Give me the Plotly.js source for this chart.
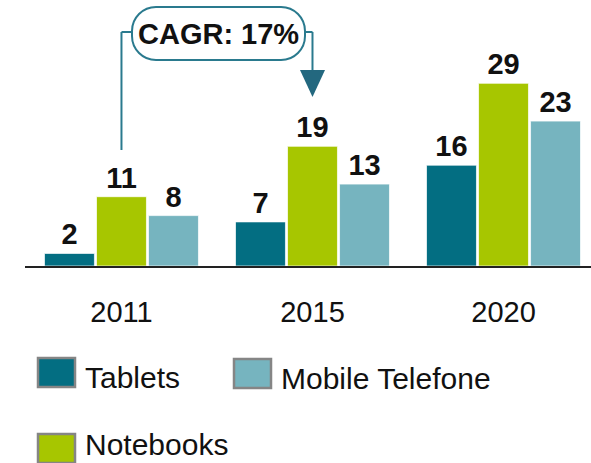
<!DOCTYPE html>
<html>
<head>
<meta charset="utf-8">
<script src="https://cdn.plot.ly/plotly-3.0.1.min.js"></script>
<style>html,body{margin:0;padding:0;background:#fff;}#chart{width:591px;height:463px;}</style>
</head>
<body>
<div id="chart"></div>
<script>
var categories = ['2011', '2015', '2020'];
var seriesNames = ['Tablets', 'Notebooks', 'Mobile Telefone'];
var tablets = [2, 7, 16];
var notebooks = [11, 19, 29];
var mobile = [8, 13, 23];
var cagrLabel = 'CAGR: 17%';
var colors = {Tablets: '#036E82', Notebooks: '#A7C600', 'Mobile Telefone': '#76B4BF'};

var W = 591, H = 463;
var mL = 25, mR = 0, mT = 14, mB = 197;
var pw = W - mL - mR, ph = H - mT - mB;
function px(x) { return (x - mL) / pw; }
function py(y) { return (H - mB - y) / ph; }

var FONT = 'Liberation Sans, Arial, sans-serif';
var valuesBy = {Tablets: tablets, Notebooks: notebooks, 'Mobile Telefone': mobile};

var traces = seriesNames.map(function (n) {
  return {
    type: 'bar', name: n, x: categories, y: valuesBy[n],
    marker: {color: colors[n], line: {color: 'rgba(255,255,255,0.7)', width: 1}},
    text: valuesBy[n].map(String), textposition: 'outside', cliponaxis: false,
    textfont: {family: FONT, size: 29, color: '#111', weight: 'bold'},
    showlegend: false, hoverinfo: 'skip'
  };
});

var shapes = [];
var annotations = [];
var teal = '#2A7A8E';

// CAGR pill box
function pill(x0, y0, x1, y1, r) {
  var k = 0.5523 * r;
  var pts = [
    ['M', x0 + r, y0], ['L', x1 - r, y0],
    ['C', x1 - r + k, y0, x1, y0 + r - k, x1, y0 + r], ['L', x1, y1 - r],
    ['C', x1, y1 - r + k, x1 - r + k, y1, x1 - r, y1], ['L', x0 + r, y1],
    ['C', x0 + r - k, y1, x0, y1 - r + k, x0, y1 - r], ['L', x0, y0 + r],
    ['C', x0, y0 + r - k, x0 + r - k, y0, x0 + r, y0]
  ];
  var s = '';
  pts.forEach(function (p) {
    s += p[0];
    for (var i = 1; i < p.length; i += 2) {
      s += ' ' + px(p[i]).toFixed(5) + ',' + py(p[i + 1]).toFixed(5);
    }
    s += ' ';
  });
  return s + 'Z';
}
shapes.push({type: 'path', xref: 'paper', yref: 'paper', path: pill(132, 7, 305, 60, 24),
  line: {color: teal, width: 2}, fillcolor: 'rgba(0,0,0,0)'});
annotations.push({xref: 'paper', yref: 'paper', x: px(218.5), y: py(34), text: '<b>' + cagrLabel + '</b>',
  showarrow: false, xanchor: 'center', yanchor: 'middle', font: {family: FONT, size: 29, color: '#111'}});

// connector from 2011 group up to box
shapes.push({type: 'line', xref: 'x', yref: 'paper', x0: 0, x1: 0, y0: py(150), y1: py(32), line: {color: teal, width: 2}});
shapes.push({type: 'line', xref: 'paper', yref: 'paper', x0: px(121.5), x1: px(132), y0: py(32), y1: py(32), line: {color: teal, width: 2}});
// connector from box down to 2015 group arrow
shapes.push({type: 'line', xref: 'paper', yref: 'paper', x0: px(305), x1: px(312.5), y0: py(32), y1: py(32), line: {color: teal, width: 2}});
shapes.push({type: 'line', xref: 'x', yref: 'paper', x0: 1, x1: 1, y0: py(32), y1: py(72), line: {color: teal, width: 2}});
shapes.push({type: 'path', xref: 'paper', yref: 'paper',
  path: 'M ' + px(300) + ',' + py(70) + ' L ' + px(325) + ',' + py(70) + ' L ' + px(312.5) + ',' + py(97) + ' Z',
  fillcolor: '#23687F', line: {width: 0}});

// custom legend
var legendItems = [
  {name: 'Tablets', x: 37, y: 357},
  {name: 'Mobile Telefone', x: 233, y: 358},
  {name: 'Notebooks', x: 37, y: 433}
];
legendItems.forEach(function (it) {
  shapes.push({type: 'rect', xref: 'paper', yref: 'paper',
    x0: px(it.x + 1), x1: px(it.x + 38), y0: py(it.y + 1), y1: py(it.y + 30),
    fillcolor: colors[it.name], line: {color: '#858585', width: 2.5}});
  var bottomRow = it.y + 40 > H;
  annotations.push({xref: 'paper', yref: 'paper', x: px(it.x + 46),
    y: bottomRow ? py(H) : py(it.y + 20), text: it.name,
    showarrow: false, xanchor: 'left', yanchor: bottomRow ? 'bottom' : 'middle',
    font: {family: FONT, size: 30, color: '#111'}});
});

var layout = {
  width: W, height: H,
  margin: {l: mL, r: mR, t: mT, b: mB, pad: 0},
  paper_bgcolor: '#fff', plot_bgcolor: '#fff',
  barmode: 'group', bargap: 0.183, bargroupgap: 0.04,
  showlegend: false,
  xaxis: {type: 'category', range: [-0.505, 2.458], showline: true, linecolor: '#222', linewidth: 2,
    showgrid: false, zeroline: false, ticks: '', ticklabelstandoff: 19,
    tickfont: {family: FONT, size: 29, color: '#111'}, fixedrange: true},
  yaxis: {range: [0, 40], visible: false, showgrid: false, zeroline: false, fixedrange: true},
  shapes: shapes, annotations: annotations,
  font: {family: FONT}
};

Plotly.newPlot('chart', traces, layout, {displayModeBar: false, staticPlot: true});
</script>
</body>
</html>
